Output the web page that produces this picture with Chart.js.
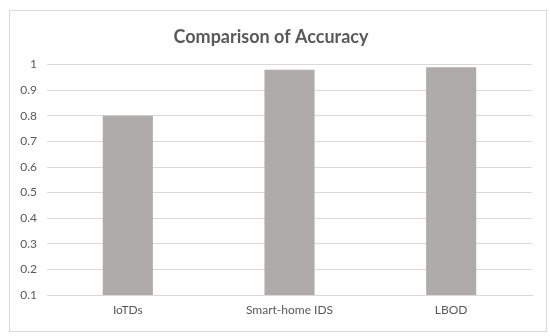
<!DOCTYPE html>
<html>
<head>
<meta charset="utf-8">
<script src="https://cdn.jsdelivr.net/npm/chart.js@4/dist/chart.umd.min.js"></script>
<style>
  html, body { margin: 0; padding: 0; background: #fff; }
  #wrap { position: relative; width: 550px; height: 336px; }
  #frame { position: absolute; left: 9px; top: 10px; width: 536px; height: 320px; border: 1px solid #d9d9d9; pointer-events: none; }
  canvas { position: absolute; left: 0; top: 0; }
</style>
</head>
<body>
<div id="wrap">
  <canvas id="c" width="550" height="336"></canvas>
  <div id="frame"></div>
</div>
<script>
const categories = ["IoTDs", "Smart-home IDS", "LBOD"];
const accuracy = [0.8, 0.98, 0.99];
const yTicks = [0.1, 0.2, 0.3, 0.4, 0.5, 0.6, 0.7, 0.8, 0.9, 1];

const FONT = "Lato, 'Open Sans', sans-serif";
new Chart(document.getElementById("c"), {
  type: "bar",
  data: {
    labels: categories,
    datasets: [{
      label: "Accuracy",
      data: accuracy,
      backgroundColor: "#afabab",
      barPercentage: 0.62,
      categoryPercentage: 0.5
    }]
  },
  options: {
    responsive: false,
    animation: false,
    devicePixelRatio: 1,
    layout: { padding: { left: 10, right: 18, top: 0, bottom: 0 } },
    plugins: {
      legend: { display: false },
      tooltip: { enabled: false },
      title: {
        display: true,
        text: "Comparison of Accuracy",
        color: "#595959",
        font: { family: FONT, size: 18, weight: "bold" },
        padding: { top: 26, bottom: 17 }
      }
    },
    scales: {
      x: {
        grid: { display: false, drawTicks: false },
        border: { display: true, color: "#d9d9d9" },
        ticks: { color: "#595959", font: { family: FONT, size: 12 }, padding: 8 },
        afterFit: s => { s.height = 41; }
      },
      y: {
        min: 0.1,
        max: 1,
        afterBuildTicks: s => { s.ticks = yTicks.map(v => ({ value: v })); },
        grid: { color: "#d9d9d9", drawTicks: false },
        border: { display: false },
        ticks: { color: "#595959", font: { family: FONT, size: 12 }, padding: 10,
                 callback: v => String(+v.toFixed(1)) },
        afterFit: s => { s.width = 37; }
      }
    }
  }
});
</script>
</body>
</html>
